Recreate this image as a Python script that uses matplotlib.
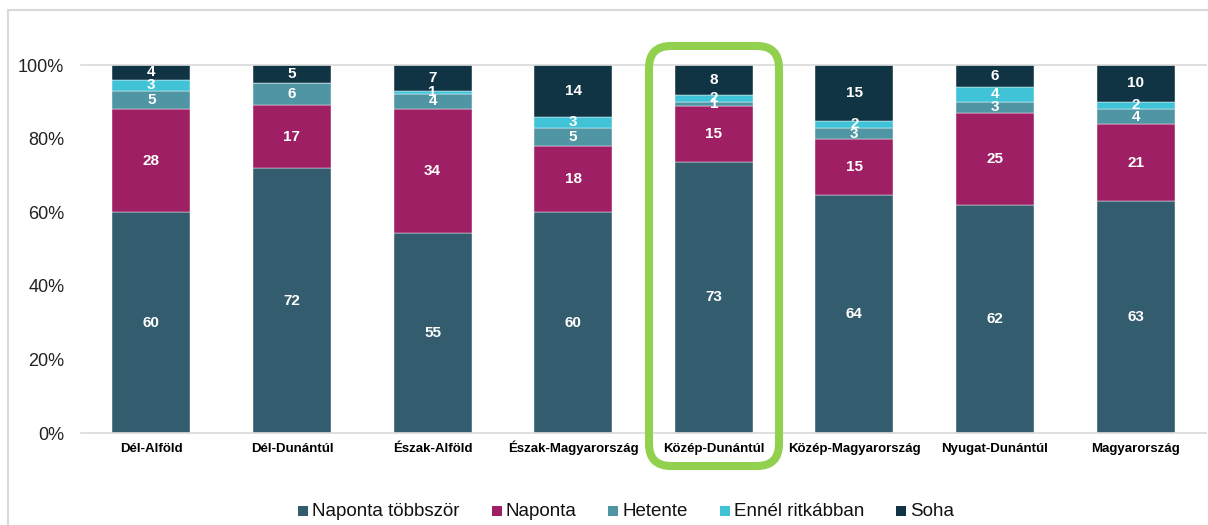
import matplotlib
matplotlib.use("Agg")
import matplotlib.pyplot as plt
import numpy as np
from matplotlib.patches import FancyBboxPatch, Rectangle
from matplotlib.transforms import IdentityTransform
from matplotlib.ticker import FuncFormatter

plt.rcParams['font.family'] = ['Liberation Sans', 'DejaVu Sans']

regions = ["Dél-Alföld", "Dél-Dunántúl", "Észak-Alföld", "Észak-Magyarország",
           "Közép-Dunántúl", "Közép-Magyarország", "Nyugat-Dunántúl", "Magyarország"]
series_names = ["Naponta többször", "Naponta", "Hetente", "Ennél ritkábban", "Soha"]
naponta_tobbszor = [60, 72, 55, 60, 73, 64, 62, 63]
naponta = [28, 17, 34, 18, 15, 15, 25, 21]
hetente = [5, 6, 4, 5, 1, 3, 3, 4]
ennel_ritkabban = [3, 0, 1, 3, 2, 2, 4, 2]
soha = [4, 5, 7, 14, 8, 15, 6, 10]
colors = ["#335C6E", "#9E1F63", "#5095A4", "#40C3D7", "#113445"]

data = np.array([naponta_tobbszor, naponta, hetente, ennel_ritkabban, soha], dtype=float)
totals = data.sum(axis=0)
shares = data / totals

W, H = 1208, 525
fig = plt.figure(figsize=(W / 100, H / 100), dpi=100)
ax = fig.add_axes([81 / W, 1 - 433 / H, (1206 - 81) / W, (433 - 65) / H])

x = np.arange(len(regions))
bottom = np.zeros(len(regions))
for i, name in enumerate(series_names):
    ax.bar(x, shares[i], 0.555, bottom=bottom, color=colors[i], label=name,
           edgecolor="white", linewidth=0.3, zorder=2)
    for j in range(len(regions)):
        if data[i, j] > 0:
            ax.text(x[j], bottom[j] + shares[i, j] / 2, f"{int(data[i, j])}",
                    ha="center", va="center", color="white", fontsize=11,
                    fontweight="bold", zorder=3)
    bottom += shares[i]

ax.set_xlim(-0.5, len(regions) - 0.5)
ax.set_ylim(0, 1)
ax.set_yticks(np.linspace(0, 1, 6))
ax.yaxis.set_major_formatter(FuncFormatter(lambda v, p: f"{int(round(v * 100))}%"))
ax.tick_params(axis="y", length=0, pad=12, labelsize=13, labelcolor="#222222")
ax.set_xticks(x)
ax.set_xticklabels(regions, fontweight="bold", fontsize=9.5)
ax.tick_params(axis="x", length=0, pad=13.5)
for lbl in ax.get_xticklabels():
    lbl.set_verticalalignment("baseline")
for s in ["left", "right"]:
    ax.spines[s].set_visible(False)
for s in ["top", "bottom"]:
    ax.spines[s].set_color("#D9D9D9")
    ax.spines[s].set_linewidth(1.2)

# legend, laid out on a common baseline (pixel coordinates)
renderer = fig.canvas.get_renderer()
sq, gap_handle, gap_item = 10, 4, 32
baseline_y = H - 516
cx = 298
for name, col in zip(series_names, colors):
    fig.add_artist(Rectangle((cx, baseline_y), sq, sq, transform=IdentityTransform(),
                             fc=col, ec="none"))
    t = fig.text(cx + sq + gap_handle, baseline_y, name, transform=IdentityTransform(),
                 fontsize=13.5, va="baseline", ha="left", color="#111111")
    w = t.get_window_extent(renderer).width
    cx = cx + sq + gap_handle + w + gap_item

# outer frame
fig.add_artist(Rectangle((8, -20), W + 20, H - 10 + 20, transform=IdentityTransform(),
                         fill=False, ec="#D9D9D9", lw=1.5))
# highlight box
fig.add_artist(FancyBboxPatch((649, H - 466), 130, 420,
                              boxstyle="round,pad=0,rounding_size=22",
                              transform=IdentityTransform(), fill=False,
                              ec="#92D050", lw=5.8, zorder=10))

fig.savefig("out.png", dpi=100)
